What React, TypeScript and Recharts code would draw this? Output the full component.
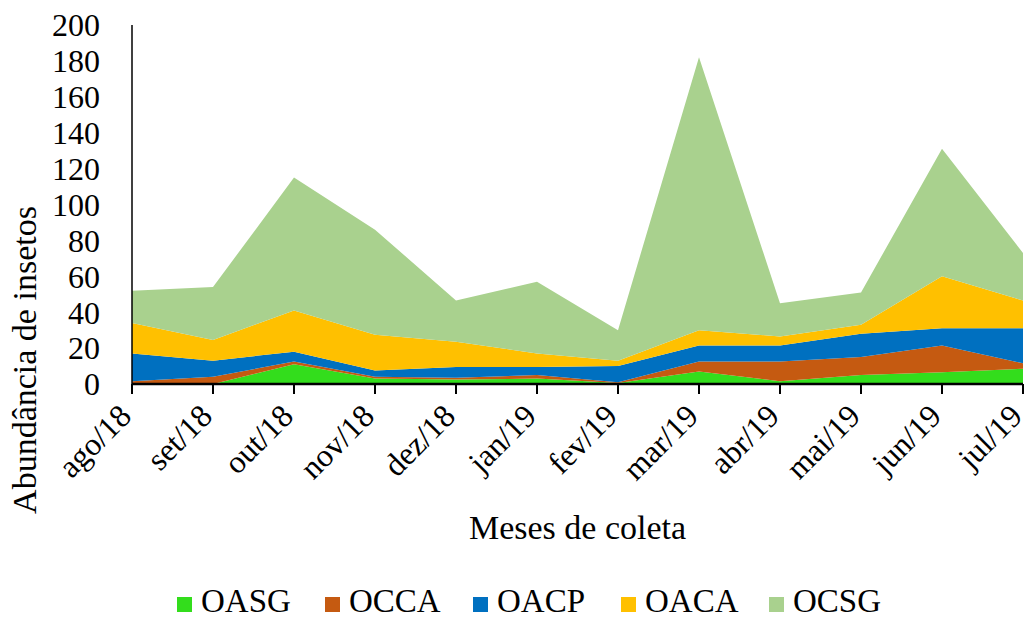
import React from 'react';
import { AreaChart, Area, XAxis, YAxis, Label } from 'recharts';

// Collection months
const months = ['ago/18', 'set/18', 'out/18', 'nov/18', 'dez/18', 'jan/19', 'fev/19', 'mar/19', 'abr/19', 'mai/19', 'jun/19', 'jul/19'];

// Insect abundance per group and month (stacked)
const OASG = [0, 0, 11, 3, 2.5, 3, 0.5, 7, 1.5, 5, 6.5, 8.5];
const OCCA = [1.5, 4, 1.5, 1, 1, 2, 0.5, 5.5, 11, 10, 15, 3];
const OACP = [15.5, 9, 5.5, 3.5, 6, 4.5, 9, 9, 9, 13, 9.5, 19.5];
const OACA = [17, 11.5, 23, 20, 14, 7.5, 3, 8.5, 5, 5, 29, 15.5];
const OCSG = [18, 29.5, 74, 58.5, 23, 40, 17, 152, 18.5, 18, 71, 26.5];

const yTicks = [0, 20, 40, 60, 80, 100, 120, 140, 160, 180, 200];

const seriesNames = ['OASG', 'OCCA', 'OACP', 'OACA', 'OCSG'];
const seriesValues = [OASG, OCCA, OACP, OACA, OCSG];
const seriesColors = ['#33DD1C', '#C55A11', '#0070C0', '#FFC000', '#A9D18E'];

const data = months.map((m, i) => {
  const row: Record<string, number | string> = { month: m };
  seriesNames.forEach((name, s) => {
    row[name] = seriesValues[s][i];
  });
  return row;
});

const FONT = '"Liberation Serif", "Times New Roman", serif';

const MonthTick = (props: any) => {
  const { x, y, payload } = props;
  const tx = x + 1;
  const ty = y + 24;
  return (
    <text
      x={tx}
      y={ty}
      transform={`rotate(-45 ${tx} ${ty})`}
      textAnchor="end"
      fontSize={32}
      fontFamily={FONT}
      fill="#000"
    >
      {payload.value}
    </text>
  );
};

export default function App() {
  return (
    <div style={{ position: 'absolute', left: 0, top: 0, width: 1028, height: 620, background: '#fff', fontFamily: FONT, overflow: 'hidden' }}>
      <AreaChart
        width={1028}
        height={620}
        data={data}
        margin={{ top: 25, right: 5, bottom: 136, left: 0 }}
      >
        <XAxis
          dataKey="month"
          height={100}
          axisLine={{ stroke: '#000', strokeWidth: 2.5 }}
          tickLine={{ stroke: '#000', strokeWidth: 2 }}
          tickSize={10}
          tickMargin={0}
          interval={0}
          tick={<MonthTick />}
        >
          <Label
            content={(p: any) => {
              const vb = p.viewBox || {};
              return (
                <text
                  x={vb.x + vb.width / 2}
                  y={539}
                  textAnchor="middle"
                  fontSize={34}
                  fontFamily={FONT}
                  fill="#000"
                >
                  Meses de coleta
                </text>
              );
            }}
          />
        </XAxis>
        <YAxis
          width={132}
          domain={[0, 200]}
          ticks={yTicks}
          interval={0}
          axisLine={{ stroke: '#000', strokeWidth: 1.5 }}
          tickLine={false}
          tickSize={0}
          tickMargin={32}
          tick={{ fill: '#000', fontSize: 32, fontFamily: FONT }}
        >
          <Label
            content={() => (
              <text
                x={36}
                y={360}
                transform="rotate(-90 36 360)"
                textAnchor="middle"
                fontSize={34}
                fontFamily={FONT}
                fill="#000"
              >
                Abundância de insetos
              </text>
            )}
          />
        </YAxis>
        {seriesNames.map((name, s) => (
          <Area
            key={name}
            type="linear"
            dataKey={name}
            stackId="1"
            stroke="none"
            fill={seriesColors[s]}
            fillOpacity={1}
            dot={false}
            activeDot={false}
            isAnimationActive={false}
          />
        ))}
      </AreaChart>
      <svg
        width={1028}
        height={42}
        style={{ position: 'absolute', left: 0, top: 578 }}
      >
        {seriesNames.map((name, s) => {
          const x0 = 177 + s * 148;
          return (
            <g key={name}>
              <rect x={x0} y={19} width={15} height={15} fill={seriesColors[s]} />
              <text x={x0 + 24} y={34} fontSize={33} fontFamily={FONT} fill="#000">
                {name}
              </text>
            </g>
          );
        })}
      </svg>
    </div>
  );
}
